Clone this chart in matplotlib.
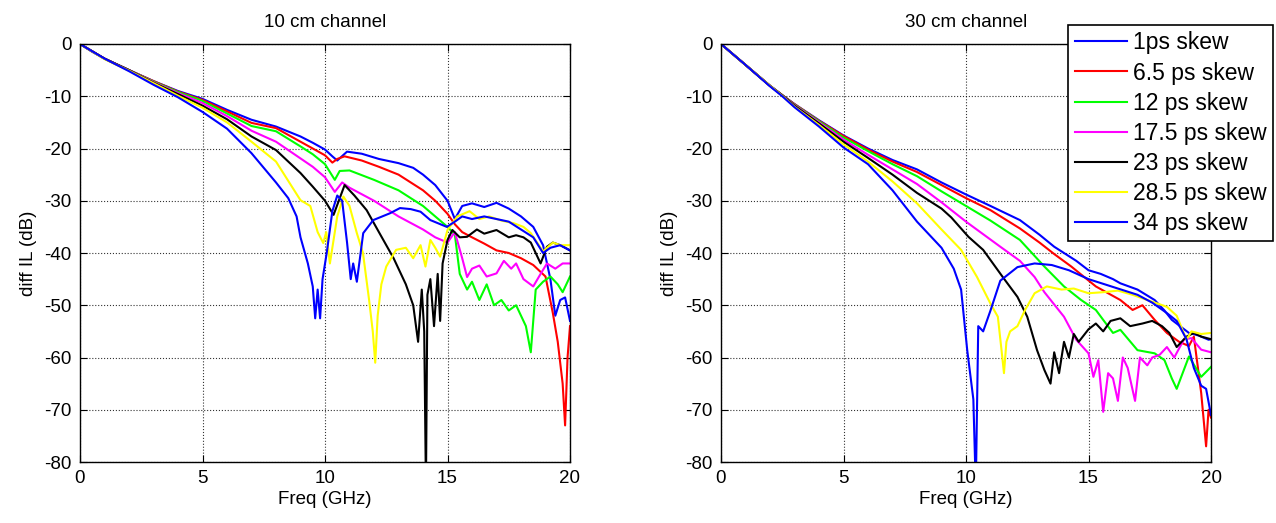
import matplotlib.pyplot as plt

skew_labels = ['1ps skew', '6.5 ps skew', '12 ps skew', '17.5 ps skew',
               '23 ps skew', '28.5 ps skew', '34 ps skew']
skew_colors = ['#0000ff', '#ff0000', '#00ff00', '#ff00ff', '#000000', '#ffff00', '#0000ff']

# ---- 10 cm channel ----
f10_1 = [0, 0.5, 1, 2, 3, 4, 5, 6, 7, 8, 9, 9.5, 10, 10.3, 10.5, 10.9, 11.5, 12.2, 13, 13.6,
         14, 14.5, 15, 15.3, 15.6, 16, 16.5, 17, 17.5, 18, 18.5, 18.9, 19.2, 19.4, 19.6, 19.8, 20]
il10_1 = [0, -1.5, -2.8, -5, -7.1, -9, -10.5, -12.6, -14.5, -15.8, -17.7, -18.9, -20.2, -21.5, -22.3,
          -20.6, -21, -22, -22.8, -23.7, -25, -27, -30, -33.5, -31, -30.5, -31.2, -30.4, -31.5, -33,
          -35, -38.5, -45, -52, -49, -48.5, -53]

f10_2 = [0, 1, 2, 3, 4, 5, 6, 7, 8, 9, 9.5, 10, 10.3, 10.5, 10.8, 11.5, 12.2, 13, 14, 14.5, 15,
         15.3, 15.6, 16, 16.5, 17, 17.5, 18, 18.5, 19, 19.3, 19.5, 19.7, 19.8, 19.9, 20]
il10_2 = [0, -2.8, -5, -7.1, -9.1, -10.7, -12.9, -15.1, -16.1, -18.7, -20, -21.3, -22.7, -22, -21.5,
          -22.3, -23.5, -25, -28, -30, -32.5, -34.5, -36, -37, -38.2, -39.5, -40, -41, -42.3, -44.5,
          -51.5, -57, -65, -73, -60, -54]

f10_3 = [0, 1, 2, 3, 4, 5, 6, 7, 8, 9, 9.5, 10, 10.2, 10.4, 10.6, 11, 12, 13, 14, 14.5, 15, 15.3,
         15.5, 15.8, 16, 16.3, 16.6, 16.9, 17.2, 17.5, 17.8, 18, 18.2, 18.4, 18.6, 18.9, 19.2, 19.5,
         19.7, 20]
il10_3 = [0, -2.8, -5, -7.2, -9.2, -10.9, -13.3, -15.7, -16.7, -19.6, -21.1, -23, -24.5, -26, -24.3,
          -24.2, -26, -28, -31, -33, -35, -36.5, -44, -47, -45.5, -49, -46, -50, -49, -51, -50, -52,
          -54, -59, -47, -45.5, -44.5, -46, -47.5, -44.5]

f10_4 = [0, 1, 2, 3, 4, 5, 6, 7, 8, 9, 9.5, 10, 10.4, 10.7, 11, 12, 13, 14, 14.5, 15, 15.3, 15.6,
         15.8, 16, 16.3, 16.6, 17, 17.3, 17.6, 17.8, 18.1, 18.5, 18.8, 19.06, 19.4, 19.7, 20]
il10_4 = [0, -2.8, -5, -7.3, -9.4, -11.3, -13.8, -16.6, -18.7, -21.9, -23.5, -25.5, -28.3, -26.5,
          -27.5, -30, -33, -35.5, -37, -38, -36, -41, -44.6, -43, -42.4, -44.5, -43.9, -41.5, -43,
          -42, -45, -46.4, -44, -42, -43, -42, -42]

f10_5 = [0, 1, 2, 3, 4, 5, 6, 7, 8, 9, 9.5, 10, 10.35, 10.8, 11.2, 11.7, 12.2, 12.8, 13.3, 13.6,
         13.8, 13.95, 14.05, 14.12, 14.18, 14.3, 14.45, 14.6, 14.7, 14.8, 15, 15.2, 15.5, 15.8, 16.2,
         16.5, 17, 17.5, 17.8, 18.1, 18.4, 18.8, 19.06, 19.3, 19.6, 20]
il10_5 = [0, -2.8, -5, -7.4, -9.6, -11.8, -14.4, -17.7, -20.3, -24.7, -27.3, -30, -32.7, -27, -29,
          -31.8, -36, -41, -46, -50, -57, -47, -55, -85, -48, -45, -54, -44, -53, -42, -37.5, -35.6,
          -37, -36.9, -35.5, -36.3, -35.6, -37, -36.6, -37, -38, -42, -38.8, -38, -38.5, -39.5]

f10_6 = [0, 1, 2, 3, 4, 5, 6, 7, 8, 9, 9.4, 9.7, 9.93, 10.05, 10.2, 10.5, 10.75, 11, 11.3, 11.55,
         11.8, 11.95, 12.05, 12.15, 12.3, 12.5, 12.9, 13.3, 13.6, 13.9, 14.1, 14.3, 14.5, 14.7, 15,
         15.4, 15.9, 16.3, 16.7, 17.2, 17.7, 18.1, 18.4, 18.9, 19.3, 19.6, 20]
il10_6 = [0, -2.9, -5.1, -7.5, -9.9, -12.2, -15, -18.7, -22.5, -29.9, -31, -36, -38.1, -36, -42, -33,
          -29.2, -31, -36.2, -40, -49, -55, -61, -52, -46, -42.6, -39.4, -39, -41, -38.5, -42.6, -37.5,
          -39, -40.7, -35.6, -33, -32, -33.5, -33, -33.8, -34.3, -35, -36.2, -39.7, -38, -38.5, -38.5]

f10_7 = [0, 1, 2, 3, 4, 5, 6, 7, 8, 8.5, 8.84, 9, 9.3, 9.5, 9.6, 9.7, 9.8, 9.9, 10.07, 10.3, 10.5,
         10.7, 10.9, 11.05, 11.15, 11.3, 11.56, 11.97, 12.65, 13.06, 13.5, 13.9, 14.3, 14.97, 15.3,
         15.6, 16, 16.5, 17, 17.5, 18, 18.5, 18.9, 19.2, 19.6, 20]
il10_7 = [0, -2.8, -5.2, -7.8, -10.2, -13, -16.2, -20.9, -26.5, -29.5, -33, -37, -42, -46.4, -52.5,
          -47, -52.5, -45, -40, -32, -29, -30, -38, -45, -42, -45.5, -36.2, -33.7, -32.4, -31.4, -31.6,
          -32.1, -33.7, -35, -34, -33, -33.5, -33, -33.5, -34, -35.5, -37, -40, -39, -38.5, -39.5]

# ---- 30 cm channel ----
f30_1 = [0, 0.5, 1, 2, 2.5, 3, 4, 5, 6, 7, 8, 9, 10, 11, 12.2, 13, 13.6, 14, 14.5, 15, 15.5, 16,
         16.3, 17, 17.7, 18.1, 18.4, 19.1, 19.5, 19.9, 20]
il30_1 = [0, -2, -4, -8, -9.8, -11.5, -14.6, -17.5, -20, -22.2, -24, -26.5, -28.8, -31, -33.7, -36.5,
          -38.8, -40, -41.5, -43.3, -44, -45, -45.8, -47, -49, -51, -52.8, -55.3, -55.8, -56.6, -56.5]

f30_2 = [0, 0.5, 1, 2, 2.5, 3, 4, 5, 6, 7, 8, 9, 10, 11, 12.2, 13, 13.6, 14.3, 15.3, 16.3, 16.8,
         17.2, 17.7, 18.2, 18.7, 19.1, 19.3, 19.6, 19.8, 19.9, 20]
il30_2 = [0, -2, -4, -8, -9.8, -11.5, -14.7, -17.6, -20.2, -22.5, -24.5, -27, -29.5, -31.8, -35.3,
          -38, -40.2, -42.6, -46.4, -49, -50.9, -50, -52.8, -55.3, -57, -57.8, -56, -66.8, -77, -70,
          -71.5]

f30_3 = [0, 0.5, 1, 2, 2.5, 3, 4, 5, 6, 7, 8, 9, 10, 11, 12.2, 13.2, 14, 14.7, 15.3, 15.6, 16, 16.3,
         17, 17.7, 18.1, 18.4, 18.6, 19.1, 19.6, 20]
il30_3 = [0, -2, -4, -8, -9.8, -11.6, -14.8, -17.9, -20.5, -23, -25.3, -28.2, -31, -33.8, -37.5,
          -42.6, -46.4, -49, -50.9, -52.8, -55.3, -54.7, -58.6, -59.2, -60.5, -64, -66, -59.8, -63.7,
          -61.8]

f30_4 = [0, 0.5, 1, 2, 2.5, 3, 4, 5, 6, 7, 8, 9, 10, 11.4, 12.2, 12.8, 13.2, 14, 14.5, 15, 15.2,
         15.4, 15.6, 15.8, 16, 16.2, 16.4, 16.6, 16.9, 17.1, 17.4, 17.6, 17.9, 18.2, 18.5, 18.9, 19.2,
         19.6, 20]
il30_4 = [0, -2, -4, -8, -9.8, -11.7, -15, -18.3, -21.2, -24, -26.8, -30.3, -34, -38.8, -41.5, -44.6,
          -47.5, -52.2, -56.6, -59.2, -63.7, -60.5, -70.4, -63, -64, -68.3, -60, -62, -68.3, -60,
          -61.5, -60, -59.5, -58, -60, -56.5, -56.3, -58.5, -59]

f30_5 = [0, 0.5, 1, 2, 2.5, 3, 4, 5, 6, 7, 8, 9, 9.4, 10.1, 10.7, 11.5, 12.1, 12.5, 12.9, 13.2,
         13.45, 13.6, 13.8, 14, 14.2, 14.4, 14.6, 15, 15.3, 15.6, 15.9, 16.3, 16.7, 17.2, 17.6, 18,
         18.3, 18.6, 19, 19.3, 19.6, 20]
il30_5 = [0, -2, -4, -8, -9.8, -11.8, -15.2, -18.7, -21.8, -25, -28.5, -31.5, -33.2, -36.9, -39.4,
          -44.6, -48.4, -52.2, -58.6, -62.4, -65, -59, -63, -57, -60, -55.5, -57, -54.6, -53.5, -55,
          -53, -52.5, -54, -53.5, -53, -54, -55.3, -58, -56, -55.3, -56, -56.5]

f30_6 = [0, 0.5, 1, 2, 2.5, 3, 4, 5, 6, 7, 8, 9, 9.8, 10.45, 11, 11.3, 11.45, 11.55, 11.65, 11.8,
         12.1, 12.4, 12.8, 13.3, 13.9, 14.4, 15, 15.6, 16.2, 16.8, 17.4, 18.2, 18.6, 19, 19.2, 19.6,
         20]
il30_6 = [0, -2, -4, -8, -9.9, -12, -15.5, -19.2, -22.5, -26.3, -30.5, -35.5, -39.4, -44.6, -49.7,
          -52.2, -58.6, -63, -57, -55, -54, -51, -47.7, -46.4, -47, -46.8, -47.7, -47.5, -47.2, -48,
          -49, -50.3, -52, -56.6, -55, -55.5, -55.3]

f30_7 = [0, 0.5, 1, 2, 2.5, 3, 4, 5, 6, 7, 8, 9, 9.5, 9.8, 10.05, 10.3, 10.4, 10.5, 10.7, 11, 11.4,
         12.1, 12.8, 13.5, 14.2, 15, 16, 17, 17.6, 18.2, 18.6, 19, 19.3, 19.6, 19.8, 20]
il30_7 = [0, -2, -4, -8.1, -10, -12.1, -15.8, -19.8, -23, -28, -34, -39, -43, -47, -58.6, -68, -85,
          -54, -55, -51, -45.3, -42.7, -42, -42.3, -43.3, -45, -46.5, -48, -49.5, -51.5, -53, -56.5,
          -62, -65.4, -66, -71]

f10 = [f10_1, f10_2, f10_3, f10_4, f10_5, f10_6, f10_7]
il10 = [il10_1, il10_2, il10_3, il10_4, il10_5, il10_6, il10_7]
f30 = [f30_1, f30_2, f30_3, f30_4, f30_5, f30_6, f30_7]
il30 = [il30_1, il30_2, il30_3, il30_4, il30_5, il30_6, il30_7]

plt.rcParams['font.family'] = ['Liberation Sans', 'DejaVu Sans']
plt.rcParams['axes.unicode_minus'] = False

fig = plt.figure(figsize=(12.76, 5.23), dpi=100)
W, H = 1276, 523
ax1 = fig.add_axes([80 / W, 61 / H, 490 / W, 418 / H])
ax2 = fig.add_axes([721 / W, 61 / H, 490 / W, 418 / H])

for ax, fs, ils, title in [(ax1, f10, il10, '10 cm channel'), (ax2, f30, il30, '30 cm channel')]:
    for f, il, c, lab in zip(fs, ils, skew_colors, skew_labels):
        ax.plot(f, il, color=c, linewidth=1.5, label=lab)
    ax.set_xlim(0, 20)
    ax.set_ylim(-80, 0)
    ax.set_xticks([0, 5, 10, 15, 20])
    ax.set_yticks(range(-80, 1, 10))
    ax.grid(True, linestyle=':', color='black', linewidth=0.8, alpha=0.8)
    ax.tick_params(direction='in', length=5, labelsize=13.5, pad=6, top=True, right=True)
    ax.set_title(title, fontsize=13.5, pad=12)
    ax.set_xlabel('Freq (GHz)', fontsize=13.5, labelpad=3)
    ax.set_ylabel('diff IL (dB)', fontsize=13.5, labelpad=5)
    for s in ax.spines.values():
        s.set_linewidth(1.0)

leg = ax2.legend(loc='upper right', bbox_to_anchor=(1273 / W, 1 - 25 / H),
                 bbox_transform=fig.transFigure, fontsize=16.5, frameon=True,
                 fancybox=False, edgecolor='black', framealpha=1, borderaxespad=0,
                 handlelength=2.3, handletextpad=0.25, labelspacing=0.31, borderpad=0.28)
leg.get_frame().set_linewidth(1.2)

fig.savefig('out.png', dpi=100)
